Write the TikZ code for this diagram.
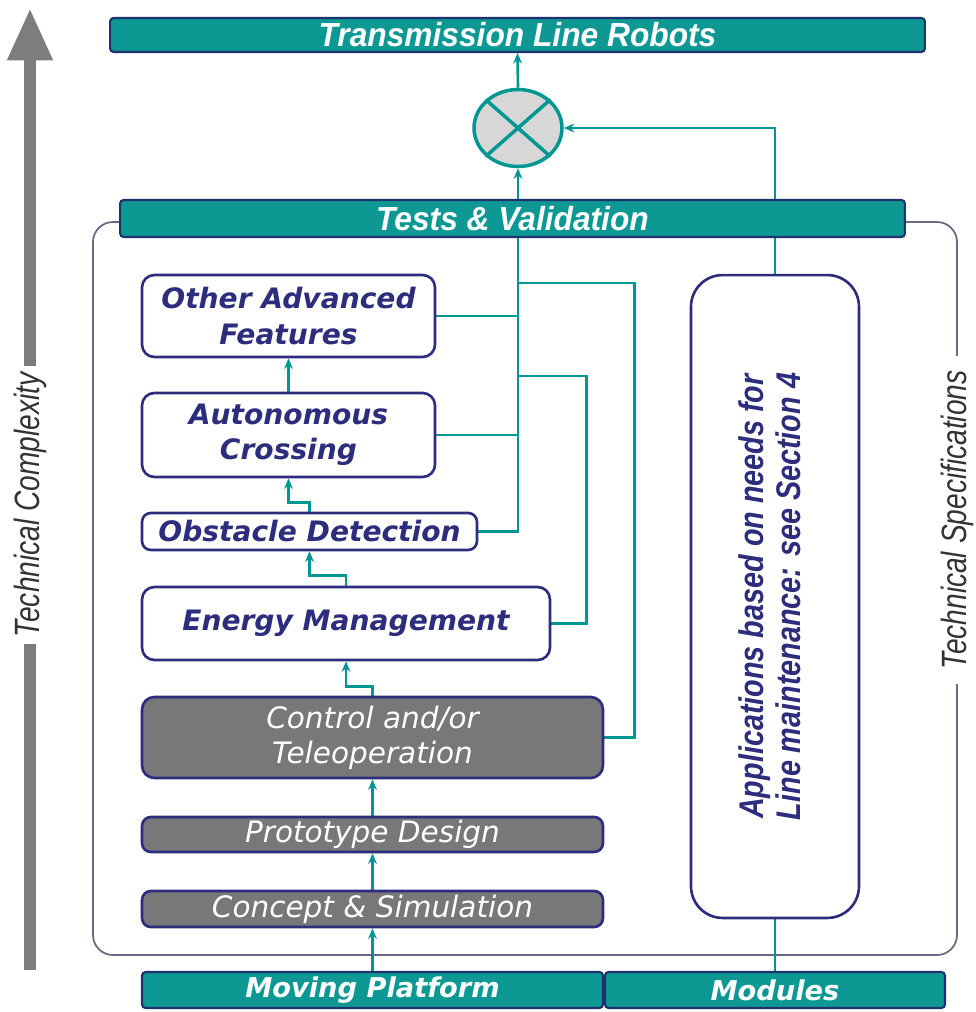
\documentclass[tikz,border=0pt]{standalone}
\usepackage{fontspec}
\usepackage{graphicx}
\setmainfont{DejaVu Sans}
\newfontfamily\barfont[FakeStretch=0.95]{Liberation Sans}
\newfontfamily\narrowfont[FakeStretch=0.84]{Liberation Sans}
\newfontfamily\labelfont[FakeStretch=0.8]{Liberation Sans}
\usetikzlibrary{shapes.geometric,arrows.meta,backgrounds}

\definecolor{barteal}{RGB}{14,152,148}
\definecolor{barnavy}{RGB}{30,50,110}
\definecolor{lineteal}{RGB}{0,150,145}
\definecolor{boxnavy}{RGB}{45,45,125}
\definecolor{stagegray}{RGB}{120,120,120}
\definecolor{mixgray}{RGB}{215,215,215}
\definecolor{framegray}{RGB}{105,105,130}
\definecolor{axisgray}{RGB}{125,125,125}

\tikzset{
  bar/.style={draw=barnavy, fill=barteal, line width=1.2pt, rounded corners=2pt,
    inner sep=0pt, text=white, font=\barfont\bfseries\itshape\fontsize{19}{19}\selectfont},
  foot/.style={bar, font=\bfseries\itshape\fontsize{15.5}{15.5}\selectfont},
  stage/.style={draw=boxnavy, fill=white, line width=1.5pt, rounded corners=7pt,
    inner sep=0pt, align=center, text=boxnavy,
    font=\bfseries\itshape\fontsize{16}{20}\selectfont},
  darkstage/.style={stage, fill=stagegray, text=white,
    font=\itshape\fontsize{16.8}{20}\selectfont},
  appbox/.style={draw=boxnavy, line width=1.5pt, rounded corners=18pt, inner sep=0pt,
    text=boxnavy, font=\narrowfont\bfseries\itshape\fontsize{19.5}{21}\selectfont},
  mix/.style={ellipse, draw=lineteal, fill=mixgray, line width=2pt, inner sep=0pt,
    minimum width=1.76cm, minimum height=1.54cm},
  link/.style={draw=lineteal, line width=1.5pt},
  up/.style={link, -{Stealth[length=6pt,width=5pt]}},
  frame/.style={draw=framegray, line width=1pt, rounded corners=0.4cm},
  axislabel/.style={rotate=90, fill=white, inner sep=4pt, text=black!80,
    font=\labelfont\itshape\fontsize{20}{20}\selectfont},
}

\begin{document}
\begin{tikzpicture}[x=0.02cm, y=-0.02cm]
    \useasboundingbox (0,0) rectangle (975,1012);

        % output and tests
        \node[bar, minimum width=16.3cm, minimum height=0.68cm] (Robots) at (517.5,35) {Transmission Line Robots};
        \node[mix] (Mix) at (518,128) {};
        \draw[link, line width=2pt] (Mix.north west) -- (Mix.south east) (Mix.north east) -- (Mix.south west);
        \node[bar, minimum width=15.7cm, minimum height=0.74cm] (Tests) at (512.5,218.5) {Tests \& Validation};

        % stages
        \node[stage, minimum width=5.86cm, minimum height=1.64cm] (Other) at (288.5,316) {Other Advanced\\Features};
        \node[stage, minimum width=5.86cm, minimum height=1.68cm] (Autonomous) at (288.5,435) {Autonomous\\Crossing};
        \node[stage, minimum width=6.7cm, minimum height=0.74cm, rounded corners=5pt] (Obstacle) at (309.5,531.5) {Obstacle Detection};
        \node[stage, minimum width=8.16cm, minimum height=1.46cm] (Energy) at (346,623.5) {Energy Management};
        \node[darkstage, minimum width=9.22cm, minimum height=1.62cm] (Control) at (372.5,737.5) {Control and/or\\Teleoperation};
        \node[darkstage, minimum width=9.22cm, minimum height=0.7cm, rounded corners=5pt] (Prototype) at (372.5,834.5) {Prototype Design};
        \node[darkstage, minimum width=9.22cm, minimum height=0.72cm, rounded corners=5pt] (Concept) at (372.5,909) {Concept \& Simulation};

        % modules side
        \node[appbox, minimum width=3.36cm, minimum height=12.86cm] (Apps) at (775,596.5)
            {\rotatebox{90}{\begin{tabular}{@{}c@{}}Applications based on needs for\\Line maintenance: see Section 4\end{tabular}}};
        \node[foot, minimum width=9.22cm, minimum height=0.72cm] (Moving) at (372.5,990) {Moving Platform};
        \node[foot, minimum width=6.8cm, minimum height=0.72cm] (Modules) at (775,990) {Modules};

        \begin{scope}[on background layer]
        \draw[frame] (93,222) rectangle (957,955);
        \draw[draw=axisgray, line width=7pt, -{Triangle[length=1.05cm,width=0.85cm]}] (30,970) -- (30,8);
        % links
        \draw[up] (Mix.north) -- (Robots.south);
        \draw[up] (Tests.north -| Mix.south) -- (Mix.south);
        \draw[up] (Apps.north) |- (Mix.east);
        \draw[link] (Modules.north) -- (Apps.south);
        \draw[link] (Obstacle.east) -| (Tests.south -| Mix.south);
        \draw[link] (Other.east) -- (Other.east -| Mix.south);
        \draw[link] (Autonomous.east) -- (Autonomous.east -| Mix.south);
        \coordinate (TapCtrl) at (518,283);
        \coordinate (TapEnergy) at (518,376);
        \draw[link] (Control.east) -- ++(30,0) |- (TapCtrl);
        \draw[link] (Energy.east) -- ++(35,0) |- (TapEnergy);
        \draw[up] (Moving.north) -- (Concept.south);
        \draw[up] (Concept.north) -- (Prototype.south);
        \draw[up] (Prototype.north) -- (Control.south);
        \draw[up] (Control.north) -- ++(0,-9) -| (Energy.south);
        \draw[up] (Energy.north) -- ++(0,-10) -| (Obstacle.south);
        \draw[up] (Obstacle.north) -- ++(0,-9) -| (Autonomous.south);
        \draw[up] (Autonomous.north) -- (Other.south);
        \end{scope}

        \node[axislabel] (Complexity) at (30,505) {Technical Complexity};
        \node[axislabel, inner sep=8pt] (Specs) at (957,520) {Technical Specifications};

    \end{tikzpicture}
\end{document}
